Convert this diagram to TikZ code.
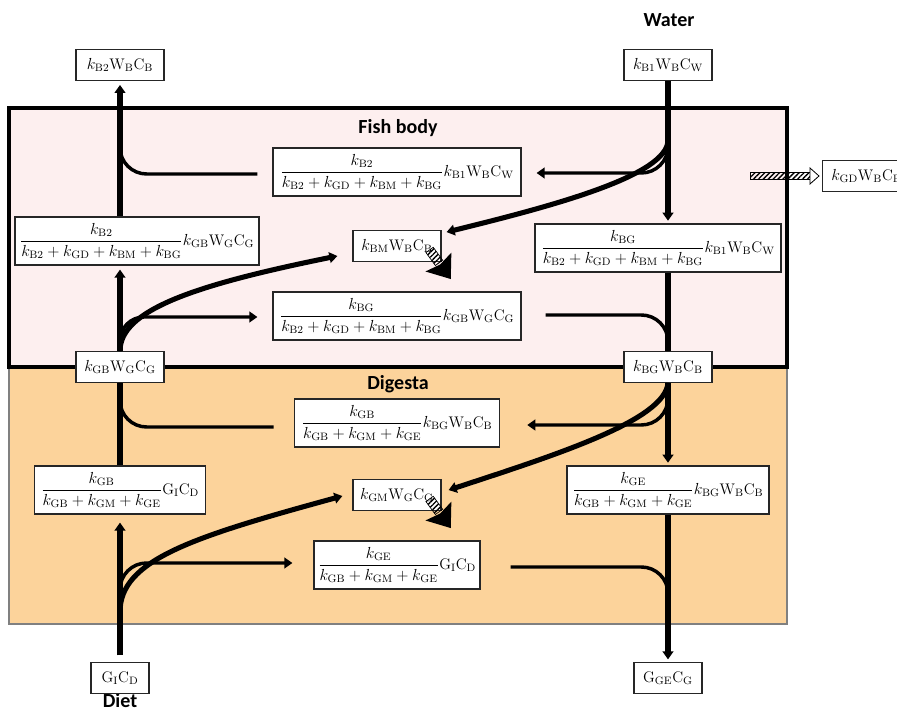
\documentclass[tikz,border=0pt]{standalone}
\usepackage{amsmath}
\usepackage{fontspec}
\newfontfamily\labelfont{Carlito}
\usetikzlibrary{arrows.meta,calc,patterns.meta}
\definecolor{bodypink}{RGB}{253,239,239}
\definecolor{gutorange}{RGB}{252,211,155}
\newcommand{\rate}[1]{k_{\mathrm{#1}}}

\begin{document}
\begin{tikzpicture}[x=0.75pt,y=-0.75pt,>={Triangle[width=8pt,length=6pt]},
	flow/.style={line width=3.8pt},branch/.style={line width=2.6pt},
	every node/.style={font=\fontsize{11.5}{13}\selectfont}]
	\tikzstyle{box}=[draw=black!85,line width=0.9pt,fill=white,inner sep=2pt,minimum width=66pt,minimum height=23pt]
	\tikzstyle{fracbox}=[box,minimum height=36pt,inner sep=1pt]
	\tikzstyle{title}=[font=\labelfont\bfseries\fontsize{15}{18}\selectfont]
	\tikzstyle{hatch}=[pattern={Lines[angle=45,distance=2.6pt,line width=1pt]},draw,line width=0.5pt]

	\useasboundingbox (0,0) rectangle (897,712);
	\filldraw[fill=gutorange,draw=gray,line width=1.5pt] (9,367) rectangle (787,624);
	\filldraw[fill=bodypink,draw=black,line width=2.4pt] (9,108) rectangle (787,367);

	\node[title] (water) at (669,20) {Water};
	\node[title] (fish) at (398,128) {Fish body};
	\node[title] (digesta) at (398,384) {Digesta};
	\node[title] (diet) at (120,701) {Diet};

	\node[box] (b2out) at (120,65) {$\rate{B2}\mathrm{W_BC_B}$};
	\node[box] (b1in) at (668,65) {$\rate{B1}\mathrm{W_BC_W}$};
	\node[box,anchor=west] (gd) at (822,176) {$\rate{GD}\mathrm{W_BC_B}$};
	\node[fracbox,minimum width=186pt] (fb1) at (397,172)
		{$\dfrac{\rate{B2}}{\rate{B2}+\rate{GD}+\rate{BM}+\rate{BG}}\rate{B1}\mathrm{W_BC_W}$};
	\node[fracbox,minimum width=183pt] (fb2) at (137,241)
		{$\dfrac{\rate{B2}}{\rate{B2}+\rate{GD}+\rate{BM}+\rate{BG}}\rate{GB}\mathrm{W_GC_G}$};
	\node[box] (bm) at (397,246) {$\rate{BM}\mathrm{W_BC_B}$};
	\node[fracbox,minimum width=184.5pt] (fb3) at (658,248)
		{$\dfrac{\rate{BG}}{\rate{B2}+\rate{GD}+\rate{BM}+\rate{BG}}\rate{B1}\mathrm{W_BC_W}$};
	\node[fracbox,minimum width=186pt] (fb4) at (397,316)
		{$\dfrac{\rate{BG}}{\rate{B2}+\rate{GD}+\rate{BM}+\rate{BG}}\rate{GB}\mathrm{W_GC_G}$};
	\node[box] (gb) at (120,367) {$\rate{GB}\mathrm{W_GC_G}$};
	\node[box] (bg) at (668,367) {$\rate{BG}\mathrm{W_BC_B}$};
	\node[fracbox,minimum width=154pt] (fb5) at (397,423)
		{$\dfrac{\rate{GB}}{\rate{GB}+\rate{GM}+\rate{GE}}\rate{BG}\mathrm{W_BC_B}$};
	\node[fracbox,minimum width=128pt] (fb6) at (120,490)
		{$\dfrac{\rate{GB}}{\rate{GB}+\rate{GM}+\rate{GE}}\mathrm{G_IC_D}$};
	\node[box] (gm) at (397,495) {$\rate{GM}\mathrm{W_GC_G}$};
	\node[fracbox,minimum width=151.5pt] (fb7) at (668,490)
		{$\dfrac{\rate{GE}}{\rate{GB}+\rate{GM}+\rate{GE}}\rate{BG}\mathrm{W_BC_B}$};
	\node[fracbox,minimum width=124.5pt] (fb8) at (397,565)
		{$\dfrac{\rate{GE}}{\rate{GB}+\rate{GM}+\rate{GE}}\mathrm{G_IC_D}$};
	\node[box,minimum width=43.5pt] (dietin) at (120,678) {$\mathrm{G_IC_D}$};
	\node[box,minimum width=51pt] (egest) at (668,678) {$\mathrm{G_{GE}C_G}$};

	\coordinate (jTL) at (120,140);
	\coordinate (jTR) at (668,140);
	\coordinate (jBL) at (120,612);
	\coordinate (jBL2) at (120,597);
	\coordinate (jBR) at (668,612);
	\coordinate (gdfrom) at (750,176);

	\draw[flow,->,shorten >=3pt] (fb2.north -| b2out) -- (b2out.south);
	\draw[branch,rounded corners=20pt] ($(fb1.west)+(-15,2)$) -| (jTL);
	\draw[flow,->,shorten >=2pt] (b1in.south) -- (b1in.south |- fb3.north);
	\draw[branch,->,rounded corners=20pt] (jTR) |- ($(fb1.east)+(15,1)$);
	\draw[flow,->] (jTR) .. controls +(0,35) and +(110,-27) .. ($(bm.north east)+(5,2)$);

	\draw[flow,->,shorten >=3pt] (gb.north) -- (gb.north |- fb2.south);
	\draw[flow,->] (gb.north) .. controls +(0,-41) and +(-143,29) .. ($(bm.west)+(-15,10)$);
	\draw[branch,->,rounded corners=18pt] (gb.north) |- ($(fb4.west)+(-15,1)$);
	\draw[flow] (fb3.south -| bg) -- (bg.north);
	\draw[branch,rounded corners=20pt] ($(fb4.east)+(24,-1)$) -| (bg.north);

	\draw[flow] (fb6.north) -- (gb.south);
	\draw[branch,rounded corners=20pt] ($(fb5.west)+(-20,4)$) -| (gb.south);
	\draw[flow,->,shorten <=5pt,shorten >=6pt] (dietin.north) -- (fb6.south);
	\draw[flow,->] (jBL) .. controls +(0,-52) and +(-150,41) .. ($(gm.west)+(-10,1)$);
	\draw[branch,->,rounded corners=20pt] (jBL2) |- ($(fb8.west)+(-21,-2)$);

	\draw[flow,->,shorten >=2pt] (bg.south) -- (fb7.north);
	\draw[branch,->,rounded corners=20pt] (bg.south) |- ($(fb5.east)+(27,2)$);
	\draw[flow,->] (bg.south) .. controls +(-3,37) and +(110,-36) .. ($(gm.north east)+(7,11)$);
	\draw[flow,->,shorten >=2pt] (fb7.south) -- (egest.north);
	\draw[branch,rounded corners=20pt] ($(fb8.east)+(30,2)$) -| (jBR);

	\begin{scope}[shift={($(bm.south east)+(-12,-12)$)},rotate=-54]
		\draw[hatch] (0,-4.5) rectangle (16,4.5);
		\fill (15,-16) -- (36,0) -- (15,16) -- (18,0) -- cycle;
	\end{scope}
	\begin{scope}[shift={($(gm.south east)+(-12,-12)$)},rotate=-54]
		\draw[hatch] (0,-4.5) rectangle (16,4.5);
		\fill (15,-16) -- (36,0) -- (15,16) -- (18,0) -- cycle;
	\end{scope}
	\draw[hatch] ($(gdfrom)+(0,-3.5)$) rectangle ($(gd.west)+(-12,3.5)$);
	\filldraw[fill=white,line width=0.6pt] ($(gd.west)+(-12,-8)$) -- ($(gd.west)+(-3,0)$) -- ($(gd.west)+(-12,8)$) -- cycle;
\end{tikzpicture}
\end{document}
